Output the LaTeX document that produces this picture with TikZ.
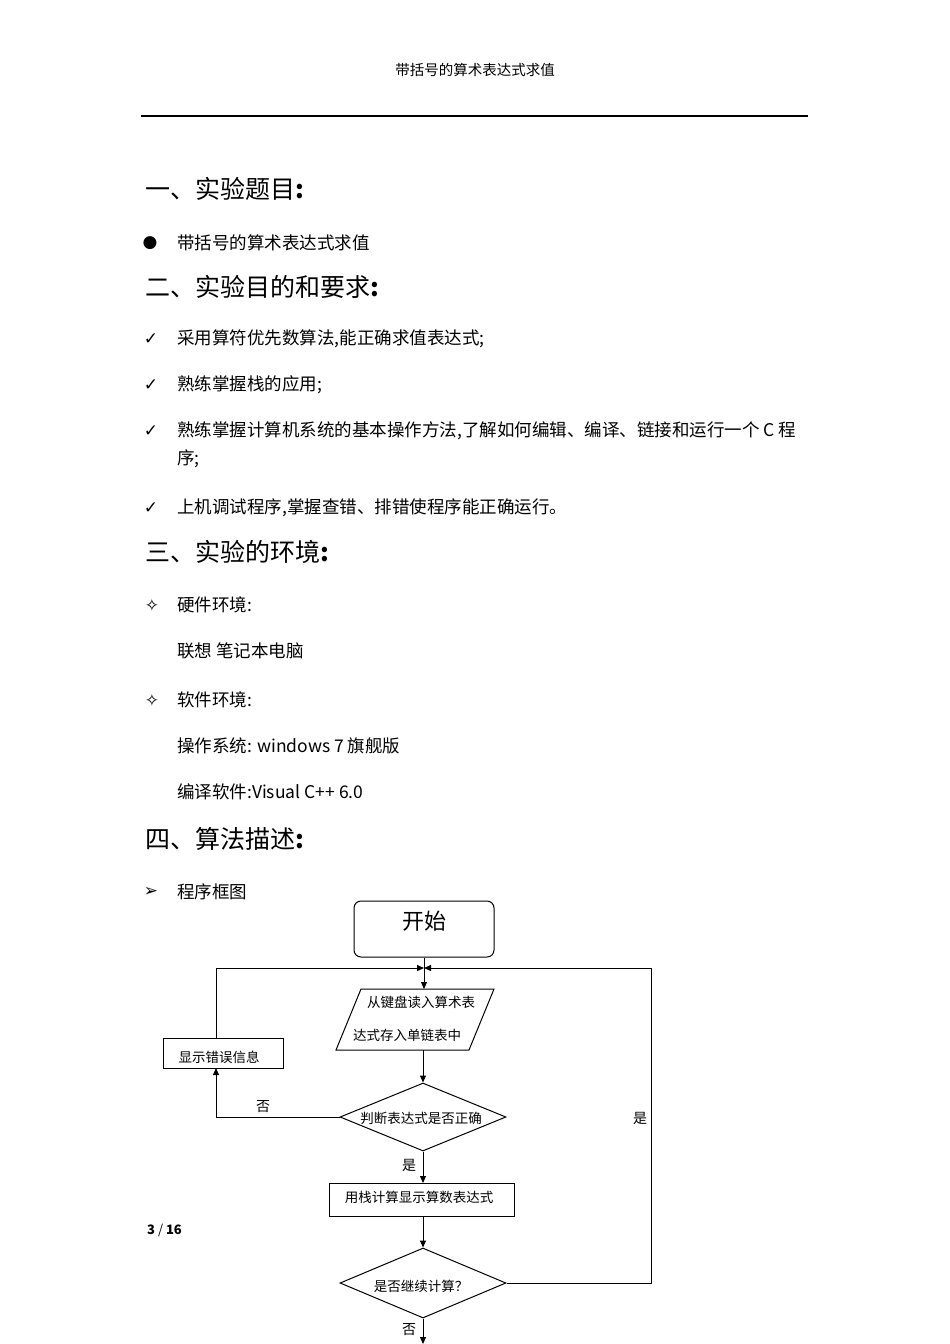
\documentclass[tikz,border=0pt]{standalone}
\usepackage{fontspec}
\setmainfont{Noto Sans CJK SC}
\newfontfamily\symf{DejaVu Sans}
\usetikzlibrary{arrows.meta,shapes.geometric}
\begin{document}
\begin{tikzpicture}[x=1pt,y=-1pt,
  body/.style={anchor=west,inner sep=0pt,font=\fontsize{17.5}{19}\selectfont},
  head/.style={anchor=west,inner sep=0pt,font=\fontsize{25}{28}\selectfont},
  sym/.style={inner sep=0pt,font=\symf\fontsize{17}{19}\selectfont},
  fc/.style={draw,line width=1pt,inner sep=0pt,font=\fontsize{13.5}{15}\selectfont},
  ln/.style={line width=1pt},
  arr/.style={line width=1pt,-{Triangle[length=7pt,width=6pt]}},
  lbl/.style={inner sep=0pt,font=\fontsize{14}{16}\selectfont}]
\useasboundingbox (0,0) rectangle (950,1344);
\fill[white] (0,0) rectangle (950,1344);
\node[inner sep=0pt,font=\fontsize{14.5}{16}\selectfont] (hdr) at (475,70) {带括号的算术表达式求值};
\draw[line width=1.5pt] (141,116) -- (808,116);
\node[head] (h1) at (145,189) {一、实验题目\textbf{:}};
\node[sym] (b1) at (150,243) {●};
\node[body] (t1) at (177,243) {带括号的算术表达式求值};
\node[head] (h2) at (145,287) {二、实验目的和要求\textbf{:}};
\node[sym] (c1) at (151,339) {✓};
\node[body] (t2) at (177,339) {采用算符优先数算法,能正确求值表达式;};
\node[sym] (c2) at (151,385) {✓};
\node[body] (t3) at (177,385) {熟练掌握栈的应用;};
\node[sym] (c3) at (151,431) {✓};
\node[body] (t4) at (177,431) {熟练掌握计算机系统的基本操作方法,了解如何编辑、编译、链接和运行一个 C 程};
\node[body] (t4b) at (177,459) {序;};
\node[sym] (c4) at (151,508) {✓};
\node[body] (t5) at (177,508) {上机调试程序,掌握查错、排错使程序能正确运行。};
\node[head] (h3) at (145,552) {三、实验的环境\textbf{:}};
\node[sym] (s1) at (152,605) {✧};
\node[body] (t6) at (177,605) {硬件环境:};
\node[body] (t7) at (177,651) {联想 笔记本电脑};
\node[sym] (s2) at (152,700) {✧};
\node[body] (t8) at (177,700) {软件环境:};
\node[body] (t9) at (177,746) {操作系统: windows 7 旗舰版};
\node[body] (t10) at (177,792) {编译软件:Visual C++ 6.0};
\node[head] (h4) at (145,839) {四、算法描述\textbf{:}};
\node[sym] (a1) at (151,892) {➢};
\node[body] (t11) at (177,892) {程序框图};
% flowchart
\node[draw,line width=1pt,rounded corners=7pt,minimum width=140pt,minimum height=56pt,inner sep=0pt] (start) at (424,929) {};
\node[inner sep=0pt,font=\fontsize{22}{24}\selectfont] (startt) at (424,921) {开始};
\coordinate (m) at (424,968);
\draw[fc] (361,989) -- (494,989) -- (469,1050) -- (336,1050) -- cycle;
\node[lbl,font=\fontsize{13.5}{15}\selectfont] (pg1) at (421,1002) {从键盘读入算术表};
\node[lbl,font=\fontsize{13.5}{15}\selectfont] (pg2) at (407,1035) {达式存入单链表中};
\node[fc,diamond,aspect=2.44,minimum width=166pt,minimum height=68pt] (d1) at (423,1117) {};
\node[lbl,font=\fontsize{13.5}{15}\selectfont] (d1t) at (421,1118) {判断表达式是否正确};
\node[fc,minimum width=120pt,minimum height=30pt] (err) at (223,1053) {};
\node[lbl,font=\fontsize{13.5}{15}\selectfont] (errt) at (219,1057) {显示错误信息};
\node[fc,minimum width=185pt,minimum height=33pt] (calc) at (421.5,1199.5) {};
\node[lbl,font=\fontsize{13.5}{15}\selectfont] (calct) at (419,1197) {用栈计算显示算数表达式};
\node[fc,diamond,aspect=2.37,minimum width=166pt,minimum height=70pt] (d2) at (423,1283) {};
\node[lbl,font=\fontsize{13.5}{15}\selectfont] (d2t) at (421,1286) {是否继续计算？};
\coordinate (endp) at (423,1344);
% connectors
\draw[ln] (start.south) -- (m);
\draw[arr] (m) -- (424,989);
\draw[arr] (d1.west) -- (216,1117) -- (216,1068);
\draw[arr] (216,1038) -- (216,968) -- (m);
\draw[arr] (d2.east) -- (651,1283) -- (651,968) -- (m);
\draw[arr] (423,1050) -- (d1.north);
\draw[arr] (d1.south) -- (423,1183);
\draw[arr] (423,1216) -- (d2.north);
\draw[arr] (d2.south) -- (endp);
\node[lbl] (no1) at (263,1107) {否};
\node[lbl] (yes1) at (409,1165) {是};
\node[lbl] (yes2) at (640,1118) {是};
\node[lbl] (no2) at (409,1330) {否};
\node[anchor=west,inner sep=0pt,font=\fontsize{13}{15}\selectfont] (pgn) at (147,1230) {\textbf{3} / \textbf{16}};
\end{tikzpicture}
\end{document}
